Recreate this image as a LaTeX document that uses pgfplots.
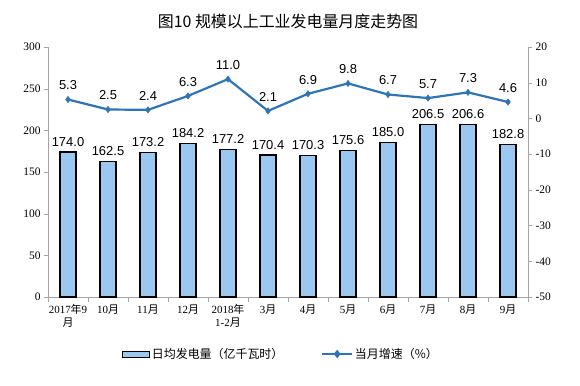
\documentclass[border=0pt]{standalone}
\usepackage{pgfplots}
\pgfplotsset{compat=1.18}
\usepackage{fontspec}
\setmainfont{Liberation Serif}
\newfontfamily\arial{Liberation Sans}
\newfontfamily\cjk{Noto Sans CJK SC}
\definecolor{barfill}{RGB}{155,200,240}
\definecolor{linec}{RGB}{46,117,182}
\definecolor{axgray}{RGB}{165,165,165}
\pgfplotstableread{
x val
0 174.0
1 162.5
2 173.2
3 184.2
4 177.2
5 170.4
6 170.3
7 175.6
8 185.0
9 206.5
10 206.6
11 182.8
}\bars
\pgfplotstableread{
x val
0 5.3
1 2.5
2 2.4
3 6.3
4 11.0
5 2.1
6 6.9
7 9.8
8 6.7
9 5.7
10 7.3
11 4.6
}\growth
\begin{document}
\begin{tikzpicture}[x=1bp,y=1bp]
\useasboundingbox (0,0) rectangle (580,385);
\begin{axis}[
  at={(48bp,88bp)}, anchor=south west,
  scale only axis, width=480bp, height=250bp,
  xmin=-0.5, xmax=11.5, ymin=0, ymax=300,
  axis x line*=bottom, axis y line*=left,
  axis line style={axgray,-},
  tick style={axgray},
  tick align=outside,
  major tick length=4bp, minor tick length=5bp,
  xtick={0,...,11},
  major x tick style={draw=none},
  minor xtick={-0.5,0.5,1.5,2.5,3.5,4.5,5.5,6.5,7.5,8.5,9.5,10.5,11.5},
  xticklabels={{2017{\cjk 年}9\\{\cjk 月}},{10{\cjk 月}},{11{\cjk 月}},{12{\cjk 月}},{2018{\cjk 年}\\1-2{\cjk 月}},{3{\cjk 月}},{4{\cjk 月}},{5{\cjk 月}},{6{\cjk 月}},{7{\cjk 月}},{8{\cjk 月}},{9{\cjk 月}}},
  x tick label style={font=\fontsize{11}{13}\selectfont, align=center, text=black},
  ytick={0,50,...,300},
  y tick label style={font=\fontsize{11.5}{11.5}\selectfont, text=black},
  /pgf/number format/assume math mode=true,
  title={\cjk 图10\ 规模以上工业发电量月度走势图},
  title style={font=\fontsize{16}{16}\selectfont, at={(0.5,1)}, anchor=south, yshift=9bp},
  ybar, bar width=16bp,
  nodes near coords,
  nodes near coords style={font=\arial\fontsize{13}{13}\selectfont, text=black, yshift=2bp,
    /pgf/number format/.cd, fixed, fixed zerofill, precision=1},
]
\addplot[fill=barfill, draw=black, line width=1.1pt] table[x=x,y=val]{\bars};
\end{axis}
\begin{axis}[
  at={(48bp,88bp)}, anchor=south west,
  scale only axis, width=480bp, height=250bp,
  xmin=-0.5, xmax=11.5, ymin=-50, ymax=20,
  axis x line=none, axis y line*=right,
  axis line style={axgray,-},
  tick style={axgray},
  tick align=outside,
  major tick length=4bp,
  ytick={-50,-40,...,20},
  y tick label style={font=\fontsize{11.5}{11.5}\selectfont, text=black},
  /pgf/number format/assume math mode=true,
  nodes near coords,
  nodes near coords style={font=\arial\fontsize{13}{13}\selectfont, text=black, yshift=6bp,
    /pgf/number format/.cd, fixed, fixed zerofill, precision=1},
  legend style={at={(0.485,-0.228)}, anchor=center, draw=none, fill=none,
    font=\cjk\fontsize{12}{12}\selectfont, column sep=0pt,
    /tikz/every even column/.append style={column sep=36bp}},
  legend columns=2,
]
\addlegendimage{legend image code/.code={\draw[fill=barfill, draw=black, line width=1pt] (0bp,-3bp) rectangle (27bp,3bp);}}
\addlegendentry{日均发电量（亿千瓦时）}
\addplot[color=linec, line width=2.2pt, mark=diamond*, mark size=3.2pt, mark options={line width=0.5pt},
  legend image code/.code={\draw[color=linec, line width=1.6pt] (0bp,0bp) -- (30bp,0bp); \fill[linec] (15bp,0bp) +(0,2.5bp) -- +(2bp,0) -- +(0,-2.5bp) -- +(-2bp,0) -- cycle;}]
  table[x=x,y=val]{\growth};
\addlegendentry{当月增速（\%）}
\end{axis}
\end{tikzpicture}
\end{document}
